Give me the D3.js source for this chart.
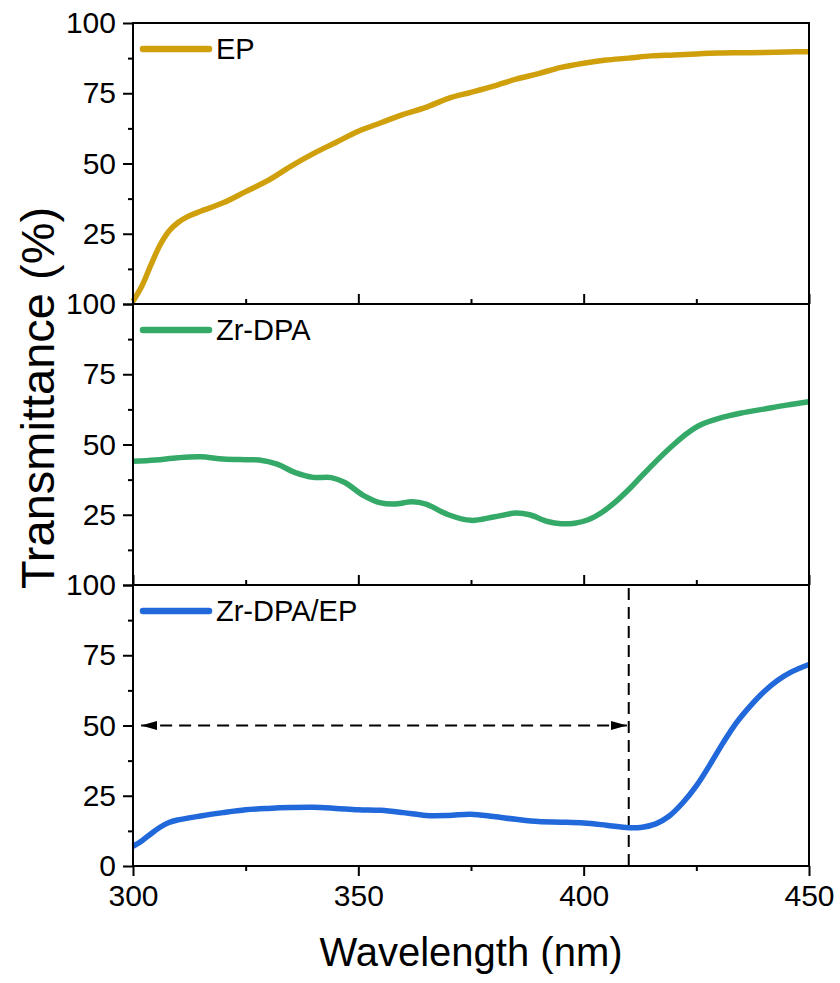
<!DOCTYPE html>
<html lang="en">
<head>
<meta charset="utf-8">
<title>Transmittance spectra</title>
<script src="https://cdnjs.cloudflare.com/ajax/libs/d3/7.8.5/d3.min.js"></script>
<style>
  body { margin: 0; background: #fff; }
  text { font-family: "Liberation Sans", Arial, sans-serif; fill: #000; }
</style>
</head>
<body>
<svg width="840" height="983"></svg>
<script>
// values (wavelength in nm, transmittance in %)
var epWave = [300, 302, 304, 306, 308, 310, 312, 315, 320, 325, 330, 335, 340, 345, 350, 355, 360, 365, 370, 375, 380, 385, 390, 395, 400, 405, 410, 415, 420, 425, 430, 435, 440, 445, 450];
var epT    = [1, 6.5, 14, 21, 26, 29, 31, 33, 36, 40, 44, 49, 53.5, 57.5, 61.5, 64.5, 67.5, 70, 73.2, 75.3, 77.5, 80, 82, 84.2, 85.7, 86.8, 87.5, 88.3, 88.6, 89, 89.3, 89.4, 89.5, 89.7, 89.8];

var zrWave = [300, 305, 310, 315, 320, 325, 328, 332, 336, 340, 344, 347, 351, 355, 358, 362, 365, 370, 375, 380, 385, 388, 392, 395, 398, 401, 404, 407, 410, 413, 417, 420, 423, 426, 430, 435, 440, 445, 450];
var zrT    = [44, 44.5, 45.3, 45.6, 44.8, 44.6, 44.5, 43, 40, 38.3, 38.2, 36.5, 32, 29.2, 28.8, 29.6, 28.8, 25, 23, 24.2, 25.6, 25, 22.6, 21.8, 22, 23.2, 25.8, 29.5, 34, 39, 45.5, 50, 54, 57, 59.3, 61.2, 62.6, 64, 65.2];

var compWave = [300, 302, 304, 306, 308, 310, 315, 320, 325, 330, 335, 340, 345, 350, 355, 360, 365, 370, 375, 380, 385, 390, 395, 400, 405, 410, 413, 416, 419, 422, 425, 428, 431, 434, 437, 440, 443, 446, 450];
var compT    = [7, 9, 11.5, 13.8, 15.5, 16.4, 17.8, 19, 20, 20.5, 20.8, 20.9, 20.5, 20, 19.8, 19, 18, 18, 18.4, 17.6, 16.6, 15.8, 15.6, 15.3, 14.5, 13.6, 13.8, 15, 17.8, 22.5, 28.5, 36, 44, 51.2, 57, 62, 66, 69, 71.7];

var seriesNames  = ["EP", "Zr-DPA", "Zr-DPA/EP"];
var seriesColors = ["#cf9f0c", "#35aa68", "#2168da"];

var xMajor = [300, 350, 400, 450], xMinor = [325, 375, 425];
var yMajor = [0, 25, 50, 75, 100], yMinor = [12.5, 37.5, 62.5, 87.5];

// cut-off marker on the composite panel
var cutoffWave = 410, arrowStart = 301.8, arrowEnd = 409.6, arrowLevel = 50;

var svg = d3.select("svg"),
    margin = {top: 23, left: 133},
    width = 676,
    panelH = 281;

var x = d3.scaleLinear().domain([300, 450]).range([0, width]);
var y = d3.scaleLinear().domain([0, 100]).range([panelH, 0]);

var line = d3.line()
    .x(function(d) { return x(d[0]); })
    .y(function(d) { return y(d[1]); })
    .curve(d3.curveCatmullRom.alpha(0.5));

var defs = svg.append("defs");
defs.append("marker")
    .attr("id", "arrow")
    .attr("viewBox", "0 0 10 10")
    .attr("preserveAspectRatio", "none")
    .attr("refX", 10).attr("refY", 5)
    .attr("markerWidth", 16).attr("markerHeight", 9)
    .attr("markerUnits", "userSpaceOnUse")
    .attr("orient", "auto-start-reverse")
  .append("path")
    .attr("d", "M0,0L10,5L0,10Z")
    .attr("fill", "#000");

var series = [
  d3.zip(epWave, epT),
  d3.zip(zrWave, zrT),
  d3.zip(compWave, compT)
];

series.forEach(function(data, i) {
  var g = svg.append("g")
      .attr("transform", "translate(" + margin.left + "," + (margin.top + i * panelH) + ")");
  var last = i === series.length - 1;

  // y axis, major + minor; the 0 of upper panels sits under the next panel's 100
  g.append("g")
      .call(d3.axisLeft(y).tickValues(yMajor).tickSize(10).tickPadding(7).tickSizeOuter(0)
        .tickFormat(function(d) { return (d === 0 && !last) ? "" : d; }))
      .attr("font-size", 30).attr("font-family", null)
      .call(function(s) { s.select(".domain").remove(); });
  g.append("g")
      .call(d3.axisLeft(y).tickValues(yMinor).tickSize(5).tickFormat(""))
      .call(function(s) { s.select(".domain").remove(); });

  // x axis: inward ticks on the upper panels, outward with labels on the last one
  g.append("g")
      .attr("transform", "translate(0," + panelH + ")")
      .call(d3.axisBottom(x).tickValues(xMajor).tickSize(last ? 10 : -10).tickPadding(9)
        .tickFormat(last ? d3.format("d") : ""))
      .attr("font-size", 30).attr("font-family", null)
      .call(function(s) { s.select(".domain").remove(); });
  g.append("g")
      .attr("transform", "translate(0," + panelH + ")")
      .call(d3.axisBottom(x).tickValues(xMinor).tickSize(last ? 5 : -5).tickFormat(""))
      .call(function(s) { s.select(".domain").remove(); });

  g.selectAll(".tick line").attr("stroke-width", 2);

  if (last) {
    g.append("line")
        .attr("x1", x(cutoffWave)).attr("x2", x(cutoffWave))
        .attr("y1", y(0)).attr("y2", y(100))
        .attr("stroke", "#000").attr("stroke-width", 2)
        .attr("stroke-dasharray", "12,7");
    g.append("line")
        .attr("x1", x(arrowStart)).attr("x2", x(arrowEnd))
        .attr("y1", y(arrowLevel)).attr("y2", y(arrowLevel))
        .attr("stroke", "#000").attr("stroke-width", 2)
        .attr("stroke-dasharray", "12,7")
        .attr("marker-start", "url(#arrow)")
        .attr("marker-end", "url(#arrow)");
  }

  g.append("path")
      .datum(data)
      .attr("fill", "none")
      .attr("stroke", seriesColors[i])
      .attr("stroke-width", 5.5)
      .attr("d", line);

  // frame
  g.append("rect")
      .attr("width", width).attr("height", panelH)
      .attr("fill", "none").attr("stroke", "#000").attr("stroke-width", 2);

  // legend
  var lg = g.append("g").attr("transform", "translate(10,26)");
  lg.append("line")
      .attr("x1", 0).attr("x2", 66)
      .attr("stroke", seriesColors[i]).attr("stroke-width", 6.5)
      .attr("stroke-linecap", "round");
  lg.append("text")
      .attr("x", 73).attr("y", 10)
      .attr("font-size", 29)
      .text(seriesNames[i]);
});

svg.append("text")
    .attr("transform", "translate(54," + 398 + ") rotate(-90)")
    .attr("text-anchor", "middle")
    .attr("font-size", 47)
    .text("Transmittance (%)");

svg.append("text")
    .attr("x", margin.left + width / 2)
    .attr("y", 966)
    .attr("text-anchor", "middle")
    .attr("font-size", 40)
    .text("Wavelength (nm)");
</script>
</body>
</html>
